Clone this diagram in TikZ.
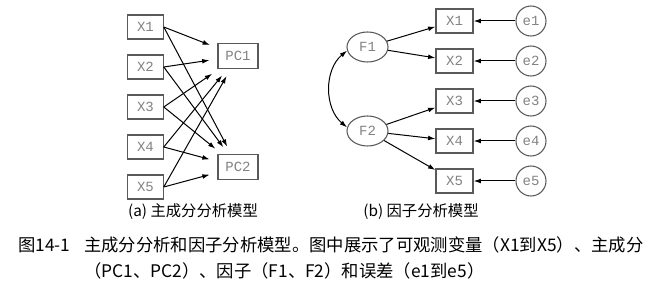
\documentclass[tikz,border=0pt]{standalone}
\usepackage{fontspec}
\newfontfamily\cjk{Noto Sans CJK SC}
\newfontfamily\monofont{Liberation Mono}
\definecolor{BoxGray}{RGB}{90,90,90}
\definecolor{LabelGray}{RGB}{130,130,130}
\usepackage{tikz}
\usetikzlibrary{positioning,shapes,arrows.meta}
\tikzset{>={Latex[length=5.5pt,width=3.6pt]}}
\tikzset{myboxes/.style={draw=BoxGray,line width=.9pt,rectangle,inner sep=0pt,minimum width=26.5pt,minimum height=18pt,text=LabelGray,font=\monofont\fontsize{10.5pt}{12pt}\selectfont}}
\tikzset{mypcs/.style={myboxes,minimum width=30pt,minimum height=19pt}}
\tikzset{myfactors/.style={draw=BoxGray,line width=.8pt,ellipse,inner sep=0pt,minimum width=30.75pt,minimum height=22.5pt,text=LabelGray,font=\monofont\fontsize{10.5pt}{12pt}\selectfont}}
\tikzset{myerrors/.style={draw=BoxGray,line width=.8pt,circle,inner sep=0pt,minimum size=22.5pt,text=LabelGray,font=\monofont\fontsize{10.5pt}{12pt}\selectfont}}
\tikzset{myedges/.style={line width=.75pt,->}}
\tikzset{mycaps/.style={font=\cjk\fontsize{11.5pt}{14pt}\selectfont}}

\begin{document}
\begin{tikzpicture}[x=.75pt,y=-.75pt]
    \useasboundingbox (0,0) rectangle (661,284);
    % (a) principal components
    \foreach \i in {1,...,5}
        \node[myboxes] (xa\i) at (145.5,{27+40*(\i-1)}) {X\i};
    \node[mypcs] (pc1) at (238,56) {PC1};
    \node[mypcs] (pc2) at (238,167) {PC2};
    \foreach \i in {1,...,5}
        \foreach \j in {1,2}
            \draw[myedges,shorten >=6pt] (xa\i.east) -- (pc\j);
    \node[mycaps] (capa) at (193,212) {(a) 主成分分析模型};
    % (b) factor analysis
    \node[myfactors] (f1) at (367.5,47) {F1};
    \node[myfactors] (f2) at (367.5,131) {F2};
    \foreach \i in {1,...,5}{
        \node[myboxes,minimum width=27.75pt] (xb\i) at (454.5,{21+40*(\i-1)}) {X\i};
        \node[myerrors] (e\i) at (531,{21+40*(\i-1)}) {e\i};
        \draw[myedges] (e\i) -- (xb\i);
    }
    \foreach \i in {1,2}
        \draw[myedges] (f1) -- (xb\i);
    \foreach \i in {3,4,5}
        \draw[myedges] (f2) -- (xb\i);
    \draw[myedges,<->] (f1.190) to[bend right=50] (f2.170);
    \node[mycaps] (capb) at (421,212) {(b) 因子分析模型};
    % figure caption
    \node[anchor=west,inner sep=0pt,font=\cjk\fontsize{13pt}{19.5pt}\selectfont] (fignum) at (18,245) {图14-1};
    \node[anchor=north west,inner sep=0pt,align=left,font=\cjk\fontsize{13pt}{19.5pt}\selectfont] (figtext) at (84,236)
        {主成分分析和因子分析模型。图中展示了可观测变量（X1到X5）、主成分\\（PC1、PC2）、因子（F1、F2）和误差（e1到e5）};
\end{tikzpicture}
\end{document}
